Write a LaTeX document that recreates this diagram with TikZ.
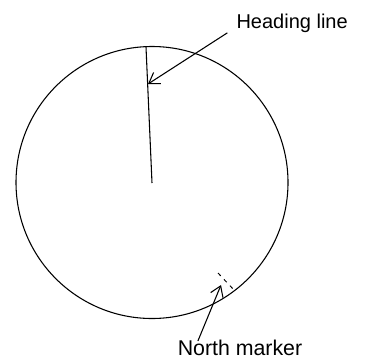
\documentclass[tikz,border=0pt]{standalone}
\usepackage{fontspec}
\setmainfont{Liberation Sans}
\usetikzlibrary{arrows.meta,positioning}

\begin{document}
\begin{tikzpicture}[x=0.75pt,y=-0.75pt,line width=0.8pt,
  lbl/.style={inner sep=0pt},
  ptr/.style={-{Straight Barb[length=7.5pt,width=10pt]}}]
\useasboundingbox (0,0) rectangle (366,360);
\node[draw,circle,minimum size=204pt,inner sep=0pt] (dial) at (152,182.5) {};
\coordinate (top) at (146,47);\coordinate (ctr) at (152,183);\coordinate (hdg) at (148,84);
\draw (top)--(ctr);
\node[lbl,anchor=west,font=\fontsize{15}{18}\selectfont] (hlbl) at (236,23) {Heading line};
\draw[ptr] ([xshift=-6.5pt]hlbl.south west)--(hdg);
\draw[line width=0.7pt,dash pattern=on 3pt off 3.5pt] (218,273)--(234,290);
\node[lbl,font=\fontsize{16}{19}\selectfont] (nlbl) at (240,348) {North marker};
\coordinate (nmk) at (221,285);
\draw[ptr] ([xshift=15.5pt,yshift=-1pt]nlbl.north west)--(nmk);
\end{tikzpicture}
\end{document}
